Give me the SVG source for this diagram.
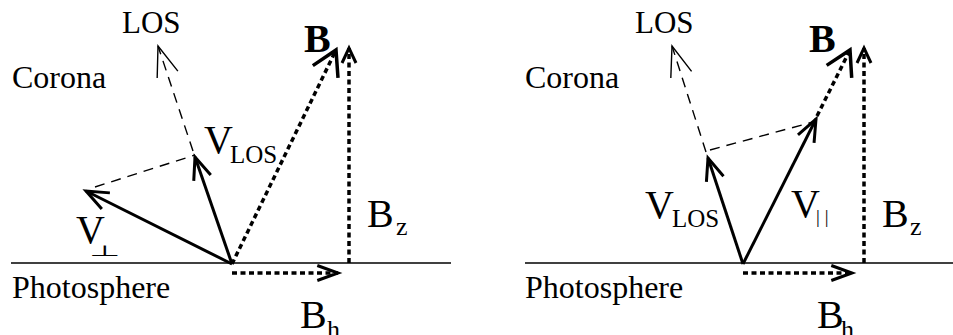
<svg xmlns="http://www.w3.org/2000/svg" width="953" height="335" viewBox="0 0 953 335">
<style>
  text { font-family: "Liberation Serif", "Times New Roman", "DejaVu Serif", serif; fill: #000; }
  .lbl { font-size: 32px; }
  .big { font-size: 40px; }
  .sub { font-size: 25px; }
  .bold { font-weight: bold; }
  .horizon { stroke: #000; stroke-width: 1.5; fill: none; }
  .vec { stroke: #000; stroke-width: 3; fill: none; }
  .thin { stroke: #000; stroke-width: 1.4; fill: none; stroke-dasharray: 10 7; }
  .dot { stroke: #000; stroke-width: 3.5; fill: none; stroke-dasharray: 5 3.5; }
  .head { fill: none; stroke: #000; stroke-dasharray: none; stroke-linejoin: miter; stroke-miterlimit: 10; }
</style>
<defs>
  <marker id="headV" markerUnits="userSpaceOnUse" orient="auto" refX="0" refY="0" markerWidth="60" markerHeight="60" overflow="visible">
    <path class="head" stroke-width="3" d="M-22.2,-9 L0,0 L-22.2,9"/>
  </marker>
  <marker id="headLOS" markerUnits="userSpaceOnUse" orient="auto" refX="0" refY="0" markerWidth="60" markerHeight="60" overflow="visible">
    <path class="head" stroke-width="1.4" d="M-30.1,-10.9 L0,0 L-30.1,10.9"/>
  </marker>
  <marker id="headB" markerUnits="userSpaceOnUse" orient="auto" refX="0" refY="0" markerWidth="60" markerHeight="60" overflow="visible">
    <path class="head" stroke-width="3.5" d="M-24.2,-14 L0,0 L-24.2,14"/>
  </marker>
  <marker id="headBz" markerUnits="userSpaceOnUse" orient="auto" refX="0" refY="0" markerWidth="60" markerHeight="60" overflow="visible">
    <path class="head" stroke-width="3" d="M-15,-7 L0,0 L-15,7"/>
  </marker>
  <marker id="headBh" markerUnits="userSpaceOnUse" orient="auto" refX="0" refY="0" markerWidth="60" markerHeight="60" overflow="visible">
    <path class="head" stroke-width="3" d="M-20.7,-7.5 L0,0 L-20.7,7.5"/>
  </marker>
</defs>

<!-- Left panel -->
<g id="left-panel">
  <g id="left-surface">
    <line class="horizon" x1="11" y1="263" x2="451" y2="263"/>
    <text class="lbl" x="12" y="88">Corona</text>
    <text class="lbl" x="12" y="298">Photosphere</text>
  </g>
  <g id="left-connectors">
    <line class="thin" x1="193" y1="151" x2="158" y2="46" marker-end="url(#headLOS)"/>
    <line class="thin" x1="95" y1="187" x2="195" y2="155"/>
    <line class="dot" x1="232" y1="264" x2="336" y2="50" marker-end="url(#headB)"/>
    <line class="dot" x1="349" y1="263" x2="349" y2="48" marker-end="url(#headBz)"/>
    <line class="dot" x1="232" y1="273" x2="338" y2="273" marker-end="url(#headBh)"/>
    <line class="vec" x1="232" y1="264" x2="86" y2="191" marker-end="url(#headV)"/>
    <line class="vec" x1="232" y1="264" x2="195" y2="157" marker-end="url(#headV)"/>
  </g>
  <g id="left-labels">
    <text class="lbl" x="122" y="33" style="font-size:31px">LOS</text>
    <text class="big bold" x="304" y="52">B</text>
    <text class="big" x="204" y="153">V</text>
    <text class="sub" x="230" y="163">LOS</text>
    <text class="big" x="76" y="243">V</text>
    <text transform="translate(89,256) scale(1,0.42)" style="font-family:'DejaVu Sans',sans-serif;font-size:36px">⊥</text>
    <text class="big" x="367" y="227">B</text>
    <text class="sub" x="396" y="235" style="font-size:26px">z</text>
    <text class="big" x="300" y="328">B</text>
    <text class="sub" x="327" y="338" style="font-size:26px">h</text>
  </g>
</g>

<!-- Right panel -->
<g id="right-panel">
  <g id="right-surface">
    <line class="horizon" x1="525" y1="263" x2="953" y2="263"/>
    <text class="lbl" x="525" y="88">Corona</text>
    <text class="lbl" x="525" y="298">Photosphere</text>
  </g>
  <g id="right-connectors">
    <line class="thin" x1="706" y1="152" x2="672" y2="46" marker-end="url(#headLOS)"/>
    <line class="thin" x1="710" y1="150" x2="813" y2="122"/>
    <line class="dot" x1="817" y1="116" x2="850" y2="50" marker-end="url(#headB)"/>
    <line class="dot" x1="864" y1="263" x2="864" y2="48" marker-end="url(#headBz)"/>
    <line class="dot" x1="743" y1="273" x2="852" y2="273" marker-end="url(#headBh)"/>
    <line class="vec" x1="743" y1="264" x2="708" y2="158" marker-end="url(#headV)"/>
    <line class="vec" x1="743" y1="264" x2="816" y2="119" marker-end="url(#headV)"/>
  </g>
  <g id="right-labels">
    <text class="lbl" x="635" y="33" style="font-size:31px">LOS</text>
    <text class="big bold" x="809" y="52">B</text>
    <text class="big" x="645" y="218">V</text>
    <text class="sub" x="672" y="227">LOS</text>
    <text class="big" x="791" y="217">V</text>
    <text x="816" y="223" style="font-size:19px;letter-spacing:5px">||</text>
    <text class="big" x="882" y="227">B</text>
    <text class="sub" x="910" y="235" style="font-size:26px">z</text>
    <text class="big" x="817" y="328">B</text>
    <text class="sub" x="841" y="338" style="font-size:26px">h</text>
  </g>
</g>
</svg>
